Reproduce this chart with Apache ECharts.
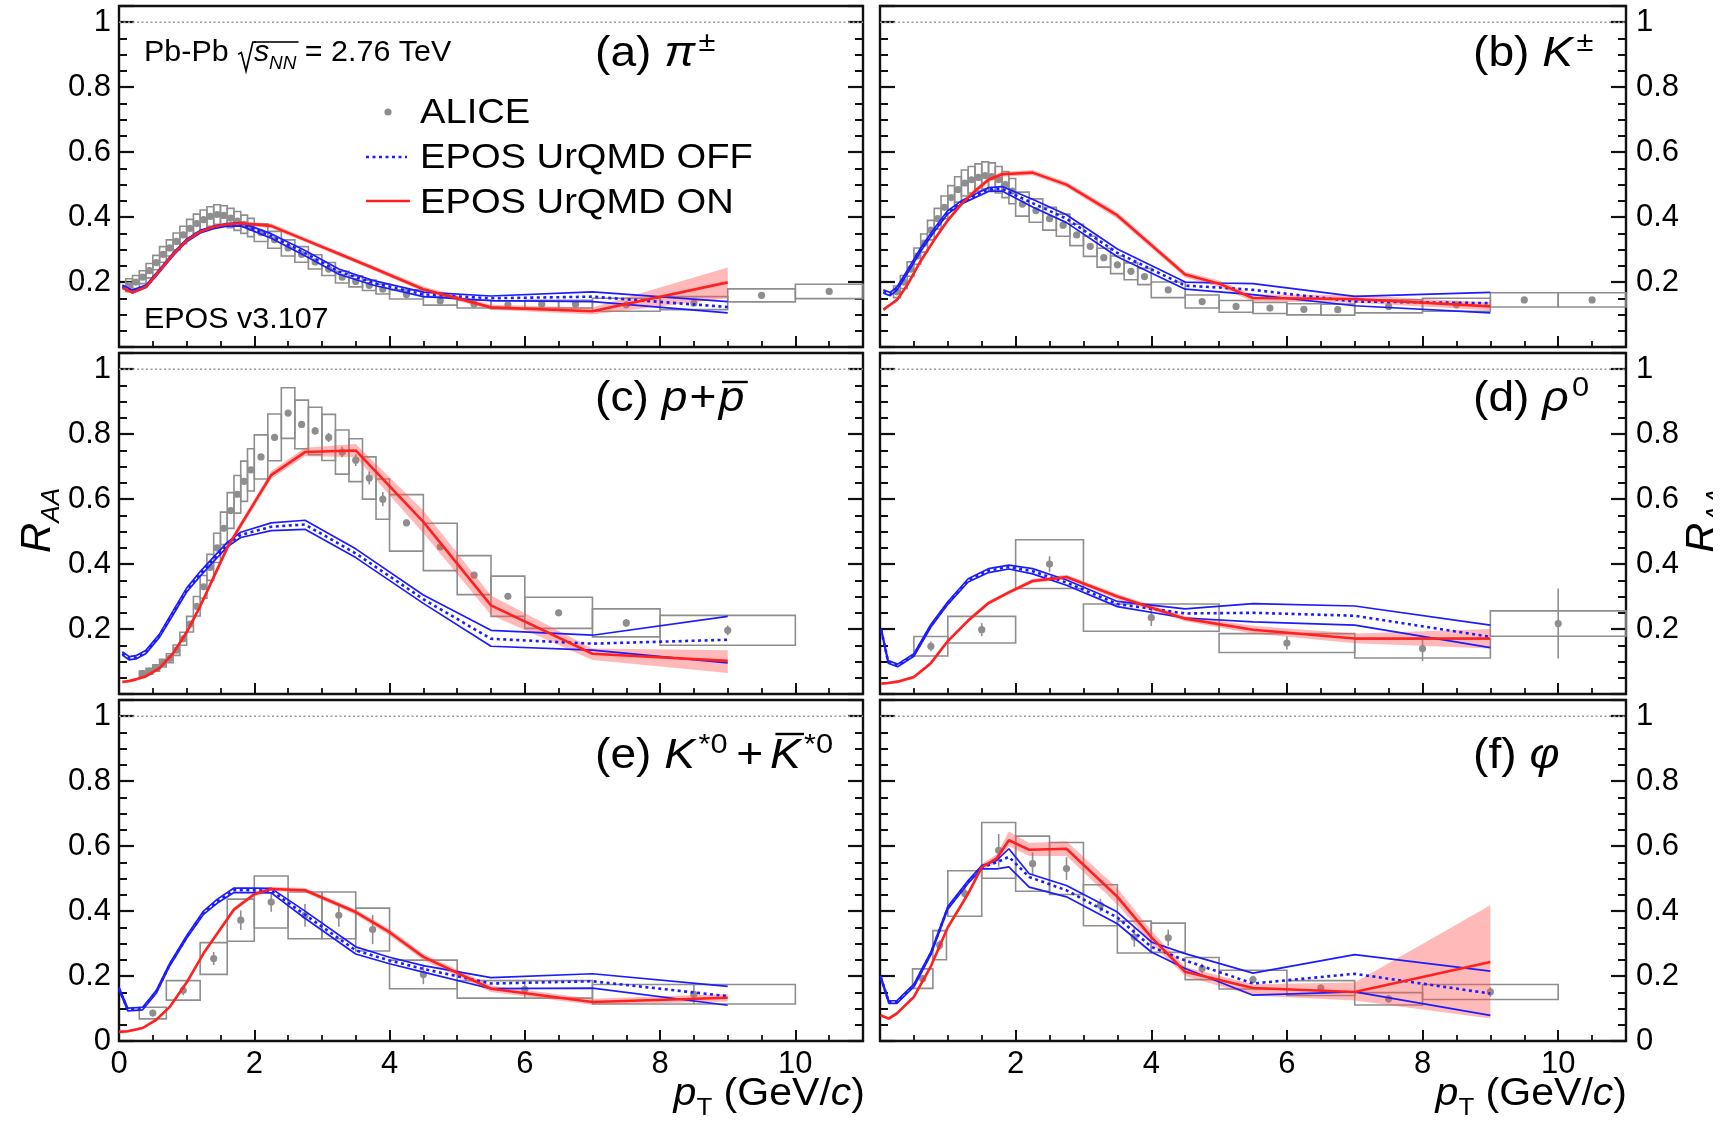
<!DOCTYPE html>
<html>
<head>
<meta charset="utf-8">
<title>Nuclear modification factors, Pb-Pb 2.76 TeV</title>
<script src="https://cdn.jsdelivr.net/npm/echarts@6/dist/echarts.min.js"></script>
<style>
  html, body { margin: 0; padding: 0; background: #fff; }
  #chart { width: 1724px; height: 1126px; }
</style>
</head>
<body>
<div id="chart"></div>
<script>
// ---------------- (a) pi+- ----------------
const aPt    = [0.15,0.25,0.35,0.45,0.55,0.65,0.75,0.85,0.95,1.05,1.15,1.25,1.35,1.45,1.55,1.65,1.75,1.85,1.95,2.1,2.3,2.5,2.7,2.9,3.1,3.3,3.5,3.7,3.9,4.25,4.75,5.25,5.75,6.25,6.75,7.5,8.5,9.5,10.5];
const aVal   = [0.19,0.2,0.215,0.235,0.26,0.285,0.305,0.325,0.345,0.365,0.38,0.392,0.402,0.408,0.405,0.397,0.388,0.378,0.368,0.352,0.33,0.305,0.285,0.262,0.24,0.215,0.202,0.19,0.178,0.162,0.142,0.132,0.13,0.132,0.132,0.13,0.135,0.159,0.171];
const aHalfW = [0.05,0.05,0.05,0.05,0.05,0.05,0.05,0.05,0.05,0.05,0.05,0.05,0.05,0.05,0.05,0.05,0.05,0.05,0.05,0.1,0.1,0.1,0.1,0.1,0.1,0.1,0.1,0.1,0.1,0.25,0.25,0.25,0.25,0.25,0.25,0.5,0.5,0.5,0.5];
const aSys   = [0.02,0.02,0.02,0.022,0.022,0.024,0.025,0.026,0.027,0.028,0.029,0.03,0.03,0.03,0.03,0.03,0.029,0.028,0.028,0.027,0.026,0.025,0.024,0.022,0.02,0.018,0.017,0.016,0.015,0.014,0.013,0.012,0.012,0.012,0.012,0.02,0.02,0.02,0.022];
const aStat  = [0.003,0.003,0.003,0.003,0.003,0.003,0.003,0.003,0.003,0.003,0.003,0.003,0.003,0.003,0.003,0.003,0.003,0.003,0.003,0.003,0.003,0.003,0.003,0.003,0.003,0.003,0.003,0.003,0.003,0.003,0.003,0.003,0.003,0.003,0.003,0.004,0.005,0.006,0.008];
const aMPt    = [0.05,0.2,0.4,0.6,0.8,1.0,1.2,1.4,1.6,1.8,2.25,2.75,3.25,3.75,4.5,5.5,7.0,9.0];
const aOffMid = [0.187,0.171,0.187,0.235,0.285,0.328,0.355,0.368,0.376,0.378,0.342,0.289,0.232,0.198,0.162,0.15,0.155,0.123];
const aOffUp  = [0.191,0.175,0.191,0.239,0.289,0.332,0.359,0.372,0.38,0.383,0.349,0.297,0.24,0.205,0.169,0.157,0.17,0.14];
const aOffLow = [0.183,0.167,0.183,0.231,0.281,0.324,0.351,0.364,0.372,0.373,0.335,0.281,0.224,0.191,0.155,0.143,0.14,0.105];
const aOnMid  = [0.182,0.168,0.185,0.235,0.285,0.328,0.355,0.37,0.378,0.381,0.373,0.33,0.287,0.244,0.178,0.122,0.11,0.199];
const aOnLow  = [0.177,0.163,0.18,0.23,0.28,0.323,0.35,0.364,0.372,0.375,0.366,0.323,0.28,0.237,0.17,0.115,0.1,0.15];
const aOnUp   = [0.187,0.173,0.19,0.24,0.29,0.333,0.36,0.376,0.384,0.387,0.38,0.337,0.294,0.251,0.186,0.13,0.122,0.245];

// ---------------- (b) K+- ----------------
const bPt    = [0.25,0.35,0.45,0.55,0.65,0.75,0.85,0.95,1.05,1.15,1.25,1.35,1.45,1.55,1.65,1.75,1.85,1.95,2.1,2.3,2.5,2.7,2.9,3.1,3.3,3.5,3.7,3.9,4.25,4.75,5.25,5.75,6.25,6.75,7.5,8.5,9.5,10.5];
const bVal   = [0.17,0.2,0.24,0.28,0.32,0.36,0.395,0.43,0.46,0.485,0.505,0.515,0.522,0.528,0.525,0.515,0.5,0.48,0.44,0.42,0.395,0.375,0.345,0.31,0.275,0.253,0.233,0.217,0.176,0.14,0.125,0.12,0.116,0.115,0.125,0.13,0.145,0.145];
const bHalfW = [0.05,0.05,0.05,0.05,0.05,0.05,0.05,0.05,0.05,0.05,0.05,0.05,0.05,0.05,0.05,0.05,0.05,0.05,0.1,0.1,0.1,0.1,0.1,0.1,0.1,0.1,0.1,0.1,0.25,0.25,0.25,0.25,0.25,0.25,0.5,0.5,0.5,0.5];
const bSys   = [0.018,0.02,0.022,0.025,0.028,0.03,0.032,0.035,0.037,0.039,0.04,0.041,0.042,0.042,0.042,0.041,0.04,0.039,0.037,0.036,0.035,0.034,0.033,0.031,0.029,0.027,0.026,0.025,0.024,0.02,0.018,0.017,0.017,0.017,0.02,0.02,0.022,0.022];
const bStat  = [0.003,0.003,0.003,0.003,0.003,0.003,0.003,0.003,0.003,0.003,0.003,0.003,0.003,0.003,0.003,0.003,0.003,0.003,0.003,0.003,0.003,0.003,0.003,0.003,0.003,0.003,0.003,0.003,0.003,0.003,0.003,0.003,0.003,0.003,0.005,0.006,0.007,0.009];
const bMPt    = [0.05,0.15,0.25,0.4,0.6,0.8,1.0,1.2,1.4,1.6,1.8,2.25,2.75,3.5,4.5,5.0,5.5,7.0,9.0];
const bOffMid = [0.171,0.163,0.18,0.23,0.3,0.36,0.415,0.445,0.465,0.485,0.487,0.443,0.395,0.29,0.189,0.183,0.176,0.14,0.135];
const bOffUp  = [0.176,0.168,0.185,0.235,0.305,0.365,0.42,0.45,0.47,0.491,0.494,0.455,0.407,0.302,0.2,0.197,0.195,0.156,0.168];
const bOffLow = [0.166,0.158,0.175,0.225,0.295,0.355,0.41,0.44,0.46,0.479,0.48,0.431,0.383,0.278,0.178,0.17,0.161,0.127,0.105];
const bOnMid  = [0.115,0.13,0.145,0.19,0.265,0.33,0.39,0.44,0.48,0.515,0.532,0.537,0.5,0.405,0.223,0.195,0.151,0.148,0.125];
const bOnLow  = [0.11,0.125,0.14,0.184,0.259,0.323,0.383,0.433,0.472,0.507,0.524,0.529,0.492,0.395,0.214,0.185,0.14,0.136,0.113];
const bOnUp   = [0.12,0.135,0.15,0.196,0.271,0.337,0.397,0.447,0.488,0.523,0.54,0.545,0.508,0.415,0.232,0.205,0.162,0.16,0.137];

// ---------------- (c) p + pbar ----------------
const cPt    = [0.35,0.45,0.55,0.65,0.75,0.85,0.95,1.05,1.15,1.25,1.35,1.45,1.55,1.65,1.75,1.85,1.95,2.1,2.3,2.5,2.7,2.9,3.1,3.3,3.5,3.7,3.9,4.25,4.75,5.25,5.75,6.5,7.5,9.0];
const cVal   = [0.063,0.07,0.08,0.095,0.11,0.135,0.17,0.215,0.27,0.33,0.39,0.45,0.51,0.565,0.615,0.655,0.69,0.73,0.79,0.865,0.83,0.81,0.79,0.745,0.72,0.665,0.6,0.527,0.453,0.366,0.301,0.25,0.219,0.196];
const cHalfW = [0.05,0.05,0.05,0.05,0.05,0.05,0.05,0.05,0.05,0.05,0.05,0.05,0.05,0.05,0.05,0.05,0.05,0.1,0.1,0.1,0.1,0.1,0.1,0.1,0.1,0.1,0.1,0.25,0.25,0.25,0.25,0.5,0.5,1.0];
const cSys   = [0.008,0.009,0.01,0.012,0.014,0.016,0.02,0.024,0.03,0.035,0.04,0.045,0.05,0.055,0.058,0.062,0.065,0.068,0.072,0.078,0.075,0.073,0.071,0.068,0.066,0.065,0.062,0.087,0.073,0.06,0.062,0.048,0.043,0.046];
const cStat  = [0.003,0.003,0.003,0.003,0.003,0.003,0.003,0.003,0.003,0.003,0.003,0.003,0.003,0.003,0.003,0.003,0.003,0.005,0.006,0.008,0.01,0.012,0.014,0.016,0.018,0.02,0.022,0.01,0.01,0.01,0.01,0.01,0.012,0.015];
const cMPt    = [0.05,0.15,0.25,0.4,0.6,0.8,1.0,1.2,1.4,1.6,1.8,2.25,2.75,3.5,4.5,5.5,7.0,9.0];
const cOffMid = [0.125,0.11,0.113,0.13,0.18,0.25,0.32,0.37,0.415,0.46,0.49,0.515,0.522,0.433,0.292,0.17,0.155,0.167];
const cOffUp  = [0.13,0.115,0.118,0.135,0.185,0.256,0.326,0.377,0.422,0.467,0.498,0.527,0.535,0.447,0.305,0.196,0.181,0.239];
const cOffLow = [0.12,0.105,0.108,0.125,0.175,0.244,0.314,0.363,0.408,0.453,0.482,0.503,0.507,0.42,0.279,0.147,0.135,0.096];
const cOnMid  = [0.037,0.04,0.045,0.055,0.08,0.125,0.19,0.27,0.36,0.45,0.52,0.674,0.745,0.75,0.53,0.273,0.124,0.102];
const cOnLow  = [0.032,0.035,0.04,0.05,0.074,0.118,0.182,0.261,0.35,0.44,0.509,0.662,0.732,0.73,0.495,0.243,0.105,0.065];
const cOnUp   = [0.042,0.045,0.05,0.06,0.086,0.132,0.198,0.279,0.37,0.46,0.531,0.686,0.758,0.77,0.565,0.303,0.14,0.135];

// ---------------- (d) rho0 ----------------
const dPt    = [0.75,1.5,2.5,4.0,6.0,8.0,10.0];
const dVal   = [0.147,0.198,0.4,0.235,0.157,0.14,0.217];
const dHalfW = [0.25,0.5,0.5,1.0,1.0,1.0,1.0];
const dSys   = [0.03,0.041,0.075,0.042,0.029,0.029,0.039];
const dStat  = [0.015,0.02,0.024,0.026,0.02,0.039,0.108];
const dMPt    = [0.02,0.12,0.26,0.5,0.75,1.0,1.3,1.6,1.9,2.25,2.75,3.5,4.5,5.5,7.0,9.0];
const dOffMid = [0.196,0.099,0.088,0.12,0.21,0.28,0.35,0.38,0.391,0.378,0.343,0.277,0.248,0.25,0.241,0.176];
const dOffUp  = [0.2,0.103,0.092,0.124,0.214,0.284,0.355,0.386,0.397,0.386,0.351,0.285,0.262,0.278,0.271,0.212];
const dOffLow = [0.192,0.095,0.084,0.116,0.206,0.276,0.345,0.374,0.385,0.37,0.335,0.269,0.234,0.222,0.212,0.143];
const dOnMid  = [0.032,0.034,0.038,0.052,0.095,0.163,0.226,0.28,0.313,0.348,0.36,0.3,0.232,0.198,0.171,0.171];
const dOnLow  = [0.028,0.03,0.034,0.047,0.089,0.157,0.22,0.274,0.307,0.342,0.353,0.292,0.224,0.186,0.156,0.14];
const dOnUp   = [0.036,0.038,0.042,0.057,0.101,0.169,0.232,0.286,0.319,0.354,0.367,0.308,0.24,0.21,0.186,0.2];

// ---------------- (e) K*0 + anti-K*0 ----------------
const ePt    = [0.5,0.95,1.4,1.8,2.25,2.75,3.25,3.75,4.5,6.0,8.5];
const eVal   = [0.086,0.156,0.254,0.372,0.428,0.387,0.387,0.343,0.205,0.159,0.144];
const eHalfW = [0.2,0.25,0.2,0.2,0.25,0.25,0.25,0.25,0.5,1.0,1.5];
const eSys   = [0.018,0.03,0.049,0.065,0.08,0.072,0.072,0.066,0.044,0.027,0.03];
const eStat  = [0.01,0.015,0.02,0.03,0.03,0.035,0.035,0.045,0.03,0.03,0.03];
const eMPt    = [0.0,0.13,0.35,0.55,0.75,1.0,1.25,1.45,1.7,2.0,2.25,2.75,3.5,4.0,4.5,5.5,7.0,9.0];
const eOffMid = [0.161,0.097,0.1,0.151,0.235,0.32,0.395,0.43,0.464,0.464,0.463,0.389,0.279,0.248,0.222,0.177,0.184,0.138];
const eOffUp  = [0.165,0.101,0.104,0.155,0.239,0.324,0.4,0.436,0.471,0.471,0.47,0.4,0.29,0.258,0.232,0.195,0.207,0.168];
const eOffLow = [0.157,0.093,0.096,0.147,0.231,0.316,0.39,0.424,0.457,0.457,0.456,0.378,0.268,0.238,0.212,0.161,0.163,0.11];
const eOnMid  = [0.028,0.03,0.04,0.065,0.105,0.18,0.27,0.33,0.405,0.452,0.468,0.464,0.397,0.335,0.259,0.161,0.12,0.133];
const eOnLow  = [0.024,0.026,0.036,0.06,0.1,0.174,0.264,0.324,0.398,0.445,0.461,0.457,0.389,0.325,0.249,0.151,0.112,0.122];
const eOnUp   = [0.032,0.034,0.044,0.07,0.11,0.186,0.276,0.336,0.412,0.459,0.475,0.471,0.405,0.345,0.269,0.171,0.13,0.145];

// ---------------- (f) phi ----------------
const fPt    = [0.63,0.88,1.25,1.75,2.25,2.75,3.25,3.75,4.25,4.75,5.5,6.5,7.5,9.0];
const fVal   = [0.192,0.295,0.454,0.587,0.546,0.531,0.418,0.32,0.318,0.223,0.189,0.163,0.13,0.151];
const fHalfW = [0.15,0.1,0.25,0.25,0.25,0.25,0.25,0.25,0.25,0.25,0.5,0.5,0.5,1.0];
const fSys   = [0.03,0.045,0.07,0.086,0.085,0.08,0.063,0.049,0.045,0.034,0.029,0.023,0.019,0.023];
const fStat  = [0.01,0.015,0.02,0.05,0.035,0.035,0.02,0.03,0.025,0.015,0.012,0.012,0.012,0.015];
const fMPt    = [0.01,0.13,0.25,0.5,0.75,1.0,1.3,1.5,1.72,1.9,2.2,2.75,3.5,4.0,4.5,5.5,7.0,9.0];
const fOffMid = [0.197,0.12,0.12,0.171,0.27,0.41,0.49,0.535,0.55,0.567,0.505,0.464,0.38,0.29,0.248,0.177,0.207,0.146];
const fOffUp  = [0.201,0.124,0.124,0.175,0.274,0.414,0.494,0.54,0.556,0.592,0.515,0.479,0.397,0.305,0.269,0.209,0.266,0.215];
const fOffLow = [0.193,0.116,0.116,0.167,0.266,0.406,0.486,0.53,0.53,0.536,0.474,0.444,0.361,0.274,0.223,0.141,0.151,0.079];
const fOnMid  = [0.079,0.069,0.085,0.136,0.23,0.35,0.454,0.535,0.562,0.618,0.589,0.592,0.444,0.32,0.213,0.163,0.151,0.243];
const fOnLow  = [0.074,0.064,0.08,0.13,0.223,0.342,0.446,0.525,0.55,0.6,0.57,0.57,0.42,0.3,0.2,0.14,0.125,0.069];
const fOnUp   = [0.084,0.074,0.09,0.142,0.237,0.358,0.462,0.545,0.574,0.645,0.61,0.615,0.47,0.34,0.228,0.175,0.18,0.418];

// axis ranges and tick steps
const X_MIN = 0, X_MAX = 11, X_MAJOR = 2, X_MINOR = 0.5;
const Y_MIN = 0, Y_MAX = 1.05, Y_MAJOR = 0.2, Y_MINOR = 0.05;

const FONT = '"Liberation Sans", Arial, Helvetica, sans-serif';
const BLUE = '#1c1cff', RED = '#ff2020', GREY = '#8e8e8e', INK = '#111';

const panels = [
  { pt: aPt, val: aVal, hw: aHalfW, sys: aSys, stat: aStat, mpt: aMPt, offMid: aOffMid, offUp: aOffUp, offLow: aOffLow, onMid: aOnMid, onLow: aOnLow, onUp: aOnUp },
  { pt: bPt, val: bVal, hw: bHalfW, sys: bSys, stat: bStat, mpt: bMPt, offMid: bOffMid, offUp: bOffUp, offLow: bOffLow, onMid: bOnMid, onLow: bOnLow, onUp: bOnUp },
  { pt: cPt, val: cVal, hw: cHalfW, sys: cSys, stat: cStat, mpt: cMPt, offMid: cOffMid, offUp: cOffUp, offLow: cOffLow, onMid: cOnMid, onLow: cOnLow, onUp: cOnUp },
  { pt: dPt, val: dVal, hw: dHalfW, sys: dSys, stat: dStat, mpt: dMPt, offMid: dOffMid, offUp: dOffUp, offLow: dOffLow, onMid: dOnMid, onLow: dOnLow, onUp: dOnUp },
  { pt: ePt, val: eVal, hw: eHalfW, sys: eSys, stat: eStat, mpt: eMPt, offMid: eOffMid, offUp: eOffUp, offLow: eOffLow, onMid: eOnMid, onLow: eOnLow, onUp: eOnUp },
  { pt: fPt, val: fVal, hw: fHalfW, sys: fSys, stat: fStat, mpt: fMPt, offMid: fOffMid, offUp: fOffUp, offLow: fOffLow, onMid: fOnMid, onLow: fOnLow, onUp: fOnUp }
];

// pad frames: two columns, three rows
const FRAMES = [
  { left: 119, top: 6,   width: 744, height: 341 },
  { left: 880, top: 6,   width: 746, height: 341 },
  { left: 119, top: 353, width: 744, height: 341 },
  { left: 880, top: 353, width: 746, height: 341 },
  { left: 119, top: 700, width: 744, height: 341 },
  { left: 880, top: 700, width: 746, height: 341 }
];

function pairs(xs, ys) { return xs.map((x, k) => [x, ys[k]]); }

// systematic box + statistical bar + marker for one measured point
function aliceItem(params, api) {
  const x = api.value(0), y = api.value(1), hw = api.value(2), s = api.value(3), e = api.value(4);
  const tl = api.coord([x - hw, y + s]), br = api.coord([x + hw, y - s]);
  const et = api.coord([x, y + e]), eb = api.coord([x, y - e]);
  const c = api.coord([x, y]);
  return {
    type: 'group',
    children: [
      { type: 'rect', shape: { x: tl[0], y: tl[1], width: br[0] - tl[0], height: br[1] - tl[1] },
        style: { fill: 'none', stroke: GREY, lineWidth: 1.6 } },
      { type: 'line', shape: { x1: et[0], y1: et[1], x2: eb[0], y2: eb[1] },
        style: { stroke: GREY, lineWidth: 1.6 } },
      { type: 'circle', shape: { cx: c[0], cy: c[1], r: 3.6 }, style: { fill: GREY } }
    ]
  };
}

// shaded uncertainty band of the UrQMD ON curve
function bandItem(xs, lo, hi) {
  return function (params, api) {
    const upper = xs.map((x, k) => api.coord([x, hi[k]]));
    const lower = xs.map((x, k) => api.coord([x, lo[k]])).reverse();
    return { type: 'polygon', shape: { points: upper.concat(lower) },
             style: { fill: 'rgba(255,80,80,0.40)', stroke: 'none' } };
  };
}

function curve(xs, ys, color, width, dash, z, ax) {
  return Object.assign({
    type: 'line', data: pairs(xs, ys), symbol: 'none', showSymbol: false, smooth: false,
    lineStyle: { color: color, width: width, type: dash, cap: 'butt' }, itemStyle: { color: color },
    z: z, silent: true, animation: false
  }, ax);
}

function yLabel(showZero) {
  return function (v) {
    const k = Math.round(v / Y_MAJOR);
    if (Math.abs(v / Y_MAJOR - k) > 1e-6 || v > 1.0001) return '';
    if (k === 0) return showZero ? '0' : '';
    if (k === 5) return '1';
    return (k * Y_MAJOR).toFixed(1);
  };
}

const grids = [], xAxes = [], yAxes = [], series = [];
const tickStyle = (len, w) => ({ show: true, inside: true, length: len, lineStyle: { color: INK, width: w } });

for (let i = 0; i < 6; i++) {
  const bottomRow = i >= 4, rightCol = i % 2 === 1;
  grids.push(Object.assign({ show: true, borderColor: INK, borderWidth: 2.4, backgroundColor: 'transparent',
    containLabel: false, outerBoundsMode: 'none' }, FRAMES[i]));

  xAxes.push({ gridIndex: i, type: 'value', position: 'bottom', min: X_MIN, max: X_MAX, interval: X_MAJOR,
    axisLine: { show: false, onZero: false }, splitLine: { show: false }, axisTick: tickStyle(11, 2),
    axisLabel: { show: bottomRow, margin: 8, fontSize: 31, fontFamily: FONT, color: '#000',
      formatter: v => (Math.abs(v % X_MAJOR) < 1e-9 && v <= 10 && !(rightCol && v === 0)) ? String(v) : '' } });
  xAxes.push({ gridIndex: i, type: 'value', position: 'bottom', min: X_MIN, max: X_MAX, interval: X_MINOR,
    axisLine: { show: false, onZero: false }, splitLine: { show: false }, axisTick: tickStyle(6, 1.8),
    axisLabel: { show: false } });

  [['left', !rightCol, 8], ['right', rightCol, 10]].forEach(([pos, showLab, margin]) => {
    yAxes.push({ gridIndex: i, type: 'value', position: pos, min: Y_MIN, max: Y_MAX, interval: Y_MAJOR,
      axisLine: { show: false, onZero: false }, splitLine: { show: false }, axisTick: tickStyle(15, 2.2),
      axisLabel: { show: showLab, margin: margin, fontSize: 31, fontFamily: FONT, color: '#000',
        formatter: yLabel(bottomRow) } });
    yAxes.push({ gridIndex: i, type: 'value', position: pos, min: Y_MIN, max: Y_MAX, interval: Y_MINOR,
      axisLine: { show: false, onZero: false }, splitLine: { show: false }, axisTick: tickStyle(8, 2),
      axisLabel: { show: false } });
  });

  const p = panels[i];
  const ax = { xAxisIndex: 2 * i, yAxisIndex: 4 * i };
  // unity reference line
  series.push(curve([X_MIN, X_MAX], [1, 1], '#9a9a9a', 1.3, [2, 2.5], 1, ax));
  // ALICE measurement
  series.push(Object.assign({ type: 'custom', name: 'ALICE', z: 2, silent: true, animation: false,
    data: p.pt.map((x, k) => [x, p.val[k], p.hw[k], p.sys[k], p.stat[k]]),
    encode: { x: 0, y: 1 }, renderItem: aliceItem }, ax));
  // EPOS UrQMD ON band
  series.push(Object.assign({ type: 'custom', z: 3, silent: true, animation: false,
    data: [[p.mpt[0], p.onMid[0]]], renderItem: bandItem(p.mpt, p.onLow, p.onUp) }, ax));
  // EPOS UrQMD OFF band edges and central curve
  series.push(curve(p.mpt, p.offUp, BLUE, 1.7, 'solid', 4, ax));
  series.push(curve(p.mpt, p.offLow, BLUE, 1.7, 'solid', 4, ax));
  series.push(curve(p.mpt, p.offMid, BLUE, 2.6, [3, 3.5], 5, ax));
  // EPOS UrQMD ON central curve
  series.push(curve(p.mpt, p.onMid, RED, 2.6, 'solid', 6, ax));
}

// ---------------- text with italics, sub/superscripts and bars ----------------
const mctx = document.createElement('canvas').getContext('2d');
function fontOf(size, italic) { return (italic ? 'italic ' : '') + size + 'px ' + FONT; }
function advance(t, size, italic) { mctx.font = fontOf(size, italic); return mctx.measureText(t).width; }

function richText(pieces, opt) {
  const kids = [];
  let x = 0;
  pieces.forEach(p => {
    x += p.gap || 0;
    const w = p.w != null ? p.w : advance(p.t, p.size, p.italic);
    const base = -(p.rise || 0);
    if (p.t) {
      kids.push({ type: 'text', x: x, y: base - 0.345 * p.size,
        style: { text: p.t, font: fontOf(p.size, p.italic), fill: '#000',
                 textAlign: 'left', textVerticalAlign: 'middle', align: 'left', verticalAlign: 'middle' } });
    }
    if (p.radical) {
      const h = p.radical;
      kids.push({ type: 'polyline', shape: { points: [[x + 1, -h * 0.42], [x + 4, -h * 0.5], [x + 8.5, 8], [x + w - 1, -h], [x + w + 2, -h]] },
        style: { stroke: '#000', lineWidth: 1.6, fill: 'none' } });
    }
    if (p.over != null) {
      const o = p.overPad || [0, 0];
      kids.push({ type: 'line', shape: { x1: x + o[0], y1: -p.over, x2: x + w + o[1], y2: -p.over },
        style: { stroke: '#000', lineWidth: p.overW || 2.4 } });
    }
    x += w;
  });
  const sx = opt.scaleX || 1;
  return { type: 'group', x: opt.align === 'right' ? opt.x - x * sx : opt.x, y: opt.y,
           scaleX: sx, scaleY: 1, rotation: opt.rotation || 0, children: kids };
}

const LS = 42, SUP = 28, SUPR = 16;
const panelTitles = [
  { x: 595,  y: 69,  p: [{ t: '(a) ', size: LS }, { t: 'π', size: LS, italic: true }, { t: '±', size: SUP, rise: SUPR, gap: 3 }] },
  { x: 1473, y: 69,  p: [{ t: '(b) ', size: LS }, { t: 'K', size: LS, italic: true }, { t: '±', size: SUP, rise: SUPR, gap: 3 }] },
  { x: 595,  y: 414, p: [{ t: '(c) ', size: LS }, { t: 'p', size: LS, italic: true }, { t: '+', size: LS, gap: 2 },
                        { t: 'p', size: LS, italic: true, gap: 2, over: 32, overPad: [3, 3] }] },
  { x: 1473, y: 414, p: [{ t: '(d) ', size: LS }, { t: 'ρ', size: LS, italic: true }, { t: '0', size: SUP, rise: SUPR, gap: 3 }] },
  { x: 595,  y: 771, p: [{ t: '(e) ', size: LS }, { t: 'K', size: LS, italic: true }, { t: '*0', size: SUP, rise: SUPR, gap: 3 },
                        { t: '+', size: LS, gap: 8 }, { t: 'K', size: LS, italic: true, gap: 6, over: 37, overPad: [5, 3] },
                        { t: '*0', size: SUP, rise: SUPR, gap: 3 }] },
  { x: 1473, y: 771, p: [{ t: '(f) ', size: LS }, { t: 'φ', size: LS, italic: true }] }
];

const graphics = [];
panelTitles.forEach(t => graphics.push(richText(t.p, { x: t.x, y: t.y, scaleX: 1.1 })));

// collision system and energy
graphics.push(richText([
  { t: 'Pb-Pb ', size: 29 },
  { t: '', w: 16, radical: 21 },
  { t: 's', size: 29, italic: true, over: 21, overW: 1.6 },
  { t: 'NN', size: 18, italic: true, rise: -7, over: 21, overW: 1.6, overPad: [0, 2] },
  { t: ' = 2.76 TeV', size: 29 }
], { x: 144, y: 63, scaleX: 1.05 }));
graphics.push(richText([{ t: 'EPOS v3.107', size: 29 }], { x: 144, y: 330, scaleX: 1.05 }));

// legend
graphics.push({ type: 'circle', shape: { cx: 388, cy: 112, r: 3.6 }, style: { fill: GREY } });
graphics.push({ type: 'line', shape: { x1: 366, y1: 157, x2: 407, y2: 157 }, style: { stroke: BLUE, lineWidth: 2.6, lineDash: [3, 3.5] } });
graphics.push({ type: 'line', shape: { x1: 366, y1: 201, x2: 410, y2: 201 }, style: { stroke: RED, lineWidth: 2.6 } });
[['ALICE', 125], ['EPOS UrQMD OFF', 170], ['EPOS UrQMD ON', 215]].forEach(([t, y]) =>
  graphics.push(richText([{ t: t, size: 35 }], { x: 420, y: y, scaleX: 1.09 })));

// axis titles
const ptTitle = [{ t: 'p', size: 38, italic: true }, { t: 'T', size: 24, rise: -9 }, { t: ' (GeV/', size: 38 },
                 { t: 'c', size: 38, italic: true }, { t: ')', size: 38 }];
graphics.push(richText(ptTitle, { x: 865, y: 1108, scaleX: 1.08, align: 'right' }));
graphics.push(richText(ptTitle, { x: 1627, y: 1108, scaleX: 1.08, align: 'right' }));
const raaTitle = [{ t: 'R', size: 42, italic: true }, { t: 'AA', size: 26, italic: true, rise: -8 }];
graphics.push(richText(raaTitle, { x: 53, y: 553, rotation: Math.PI / 2 }));
graphics.push(richText(raaTitle, { x: 1718, y: 553, rotation: Math.PI / 2 }));
graphics.push({ type: 'rect', shape: { x: 1713, y: 0, width: 11, height: 1126 }, style: { fill: '#fff' }, z: 100 });

const chart = echarts.init(document.getElementById('chart'), null, { renderer: 'canvas' });
chart.setOption({
  animation: false,
  backgroundColor: '#fff',
  grid: grids,
  xAxis: xAxes,
  yAxis: yAxes,
  series: series,
  graphic: { elements: graphics }
});
</script>
</body>
</html>
